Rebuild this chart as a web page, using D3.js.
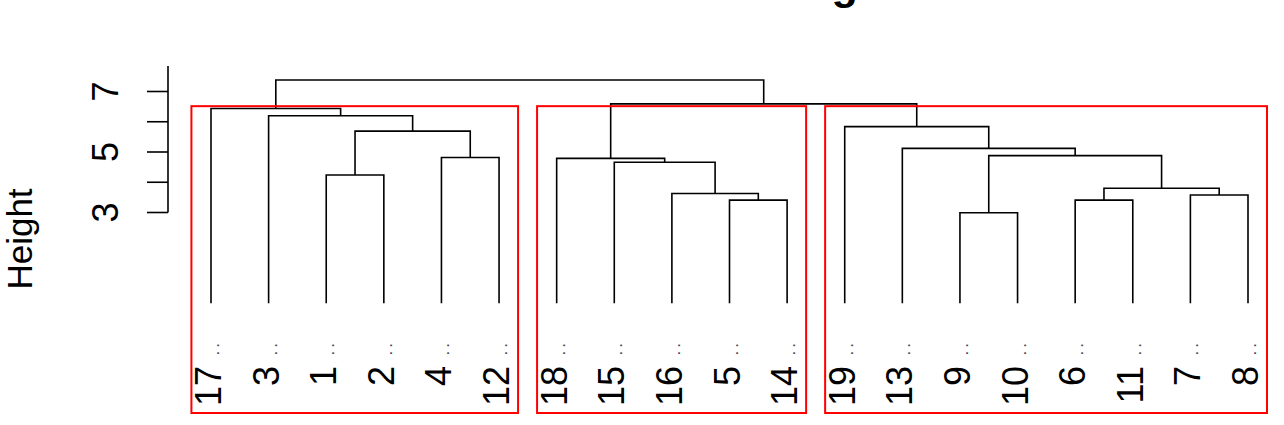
<!DOCTYPE html>
<html>
<head>
<meta charset="utf-8">
<script src="https://cdn.jsdelivr.net/npm/d3@7"></script>
<style>
  body { margin: 0; background: #fff; }
  svg { display: block; font-family: "Liberation Sans", Arial, sans-serif; }
</style>
</head>
<body>
<div id="chart"></div>
<script>
// leaf order along the x axis
var order = [17, 3, 1, 2, 4, 12, 18, 15, 16, 5, 14, 19, 13, 9, 10, 6, 11, 7, 8];

// merge table (R style: negative = leaf, positive = earlier merge, 1-based)
var mergeLeft   = [-9, -5, -6, -7, -16, 3, -1, -15, -18, -4, 1, -13, 7, -19, -3, -17, 9, 16];
var mergeRight  = [-10, -14, -11, -8, 2, 4, -2, 5, 8, -12, 6, 11, 10, 12, 13, 15, 14, 17];
var mergeHeight = [2.99, 3.41, 3.41, 3.58, 3.63, 3.80, 4.24, 4.66, 4.79, 4.82, 4.88, 5.12, 5.69, 5.84, 6.20, 6.44, 6.59, 7.38];

var yTicks = [3, 4, 5, 6, 7],
    yTickLabels = [3, 5, 7],
    k = 3;

var width = 1284,
    height = 425,
    plotLeft = 168,
    plotTop = 66,
    plotBottom = 413;

var svg = d3.select("#chart")
  .append("svg")
  .attr("width", width)
  .attr("height", height);

var x = d3.scaleLinear().domain([1, order.length]).range([211, 1248]);
var y = d3.scaleLinear().domain([3, 7]).range([212.5, 91.5]);

// position of every leaf and merge
var leafPos = {};
order.forEach(function(id, i) { leafPos[id] = i + 1; });

var nodes = [];
function node(ref) {
  if (ref < 0) return { x: leafPos[-ref], h: 0, leaves: [-ref] };
  return nodes[ref - 1];
}
mergeHeight.forEach(function(h, i) {
  var l = node(mergeLeft[i]), r = node(mergeRight[i]);
  nodes.push({ x: (l.x + r.x) / 2, h: h, left: l, right: r, leaves: l.leaves.concat(r.leaves) });
});

svg.append("g")
  .selectAll("path")
  .data(nodes)
  .enter()
  .append("path")
  .attr("fill", "none")
  .attr("stroke", "#000")
  .attr("stroke-width", 1.6)
  .attr("d", function(d) {
    return "M" + x(d.left.x) + "," + y(d.left.h) +
           "V" + y(d.h) + "H" + x(d.right.x) + "V" + y(d.right.h);
  });

// clusters from cutting the tree into k groups
var topNodes = nodes.slice(nodes.length - (k - 1));
var clusters = [];
topNodes.forEach(function(n) {
  [n.left, n.right].forEach(function(c) {
    if (topNodes.indexOf(c) < 0) clusters.push(c);
  });
});
var cutY = y((mergeHeight[mergeHeight.length - 2] + mergeHeight[mergeHeight.length - 3]) / 2);

function lo(d) { return d3.min(d.leaves, function(l) { return leafPos[l]; }); }
function hi(d) { return d3.max(d.leaves, function(l) { return leafPos[l]; }); }

svg.append("g")
  .selectAll("rect")
  .data(clusters)
  .enter()
  .append("rect")
  .attr("fill", "none")
  .attr("stroke", "#ff0000")
  .attr("stroke-width", 2)
  .attr("x", function(d) { return x(lo(d) - 0.34); })
  .attr("width", function(d) { return x(hi(d) + 0.33) - x(lo(d) - 0.34); })
  .attr("y", cutY)
  .attr("height", plotBottom - cutY);

// leaf labels
var labels = svg.append("g")
  .selectAll("g")
  .data(order)
  .enter()
  .append("g")
  .attr("transform", function(d, i) { return "translate(" + (x(i + 1) + 10) + ",0)"; });

labels.append("text")
  .attr("transform", "translate(0,366) rotate(-90)")
  .attr("text-anchor", "end")
  .attr("font-size", 36)
  .text(function(d) { return d; });

labels.append("text")
  .attr("transform", "translate(-2,340) rotate(-90)")
  .attr("text-anchor", "end")
  .attr("font-size", 17)
  .attr("letter-spacing", 3)
  .attr("fill", "#444")
  .text("..");

// y axis
svg.append("line")
  .attr("x1", plotLeft).attr("x2", plotLeft)
  .attr("y1", y(3)).attr("y2", plotTop)
  .attr("stroke", "#000").attr("stroke-width", 1.6);

svg.append("g")
  .selectAll("line")
  .data(yTicks)
  .enter()
  .append("line")
  .attr("x1", plotLeft - 21).attr("x2", plotLeft)
  .attr("y1", function(d) { return y(d); })
  .attr("y2", function(d) { return y(d); })
  .attr("stroke", "#000").attr("stroke-width", 1.6);

svg.append("g")
  .selectAll("text")
  .data(yTickLabels)
  .enter()
  .append("text")
  .attr("transform", function(d) { return "translate(118," + y(d) + ") rotate(-90)"; })
  .attr("text-anchor", "middle")
  .attr("font-size", 36)
  .text(function(d) { return d; });

svg.append("text")
  .attr("transform", "translate(32,239) rotate(-90)")
  .attr("text-anchor", "middle")
  .attr("font-size", 35)
  .text("Height");

// title, mostly cropped off the top as in the source image
svg.append("text")
  .attr("x", (plotLeft + x(order.length + 0.72)) / 2)
  .attr("y", -1)
  .attr("text-anchor", "middle")
  .attr("font-size", 43)
  .attr("font-weight", "bold")
  .text("Cluster Dendrogram");
</script>
</body>
</html>
